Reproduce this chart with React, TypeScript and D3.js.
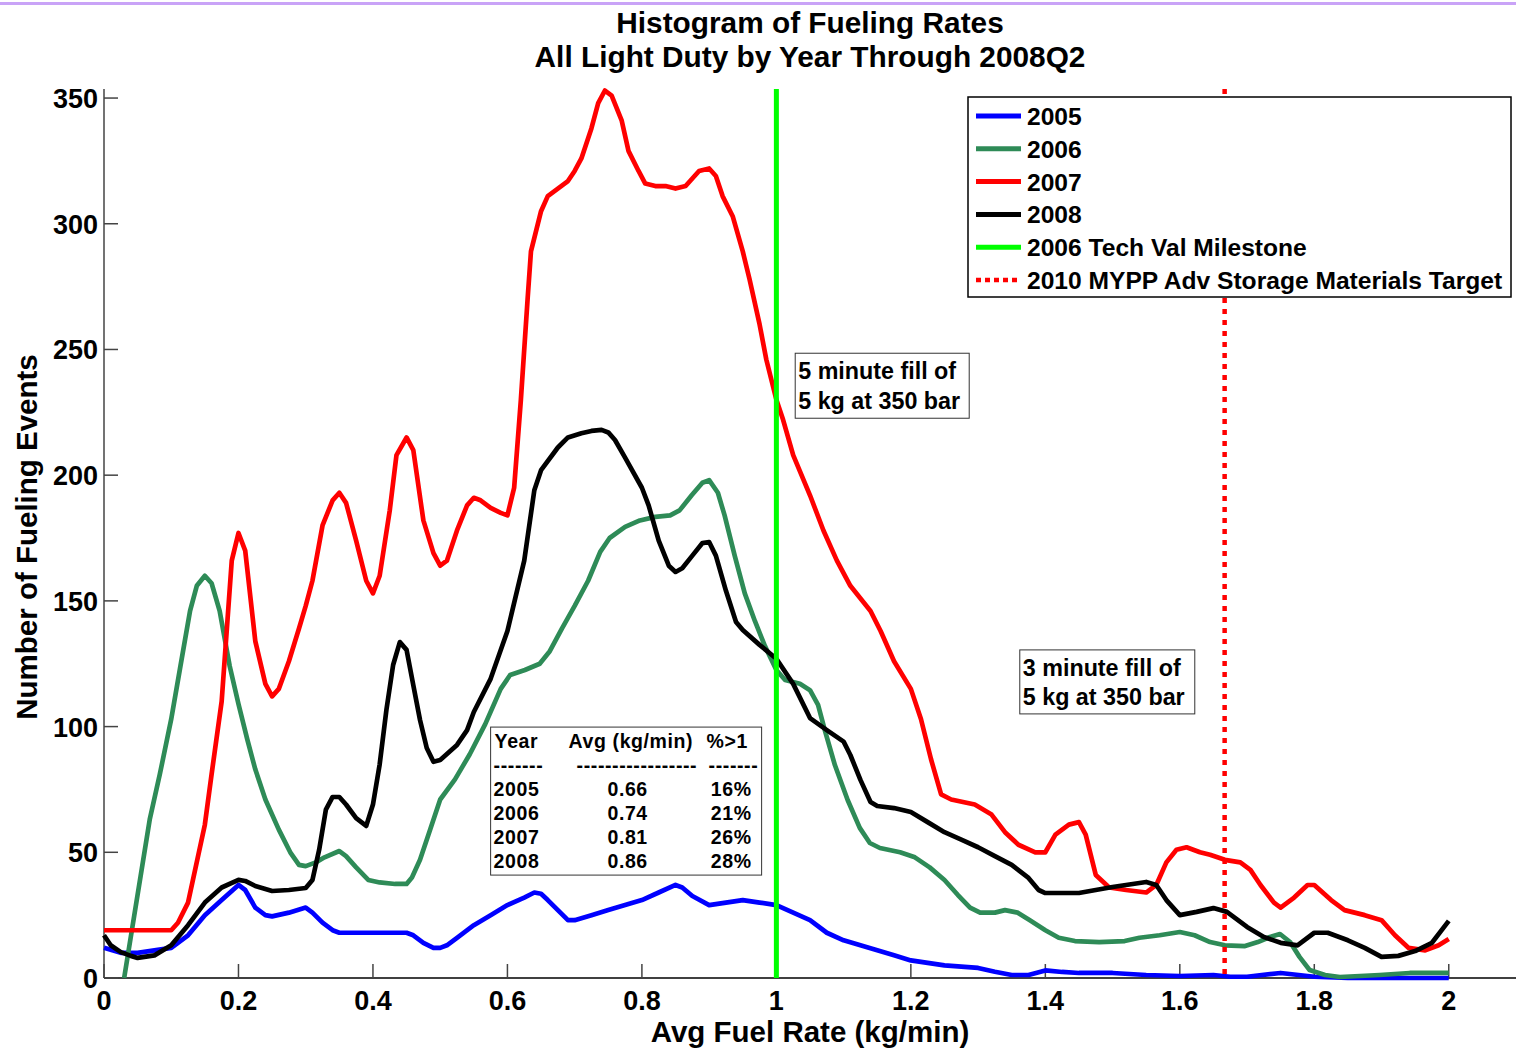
import { scaleLinear, line } from "d3";

const title = ["Histogram of Fueling Rates", "All Light Duty by Year Through 2008Q2"];
const xTicks = [0, 0.2, 0.4, 0.6, 0.8, 1, 1.2, 1.4, 1.6, 1.8, 2];
const yTicks = [0, 50, 100, 150, 200, 250, 300, 350];

// [rate kg/min, count]
const s2005: [number, number][] = [
  [0, 12], [0.025, 10], [0.05, 10], [0.075, 11], [0.1, 12], [0.125, 17], [0.15, 25], [0.175, 31],
  [0.2, 37], [0.21, 35], [0.225, 28], [0.24, 25], [0.25, 24.5], [0.275, 26], [0.3, 28], [0.31, 26],
  [0.325, 22], [0.34, 19], [0.35, 18], [0.4, 18], [0.45, 18], [0.46, 17], [0.475, 14], [0.49, 12],
  [0.5, 12], [0.51, 13], [0.525, 16], [0.55, 21], [0.575, 25], [0.6, 29], [0.625, 32], [0.64, 34],
  [0.65, 33.5], [0.66, 31], [0.675, 27], [0.69, 23], [0.7, 23], [0.725, 25], [0.75, 27], [0.775, 29],
  [0.8, 31], [0.825, 34], [0.85, 37], [0.86, 36], [0.875, 32.6], [0.9, 29], [0.925, 30], [0.95, 31],
  [0.975, 30], [1.0, 29], [1.025, 26], [1.05, 23], [1.075, 18], [1.1, 15], [1.125, 13], [1.15, 11],
  [1.175, 9], [1.2, 7], [1.25, 5], [1.3, 4], [1.325, 2.5], [1.35, 1.2], [1.375, 1.2], [1.4, 3],
  [1.425, 2.4], [1.45, 2], [1.5, 2], [1.55, 1.2], [1.6, 0.8], [1.65, 1.2], [1.675, 0.5], [1.7, 0.5],
  [1.75, 2], [1.8, 0.5], [1.85, 0], [2.0, 0],
];

const s2006: [number, number][] = [
  [0.03, 0], [0.068, 63], [0.083, 81], [0.1, 103], [0.113, 123], [0.128, 146], [0.138, 156], [0.15, 160],
  [0.16, 157], [0.172, 146], [0.187, 124], [0.2, 109], [0.213, 95], [0.225, 83], [0.24, 71], [0.26, 59],
  [0.277, 50], [0.29, 45], [0.3, 44.5], [0.315, 46], [0.328, 48], [0.35, 50.5], [0.36, 48.5], [0.375, 44],
  [0.393, 39], [0.41, 38], [0.433, 37.4], [0.45, 37.4], [0.458, 40], [0.47, 47], [0.485, 59], [0.5, 71],
  [0.522, 79], [0.544, 89], [0.567, 101], [0.59, 115], [0.604, 120.5], [0.626, 122.5], [0.648, 125],
  [0.663, 130], [0.681, 139], [0.7, 148], [0.72, 158], [0.738, 169.5], [0.752, 175], [0.775, 179.4],
  [0.797, 182], [0.82, 183.4], [0.842, 184], [0.856, 186], [0.874, 192], [0.89, 197], [0.9, 198],
  [0.913, 193], [0.923, 184], [0.938, 168], [0.953, 153], [0.968, 142], [0.983, 132], [1.0, 122.5],
  [1.013, 118.5], [1.035, 117], [1.05, 114.5], [1.062, 108.6], [1.072, 98.6], [1.087, 84.7], [1.106, 70.8],
  [1.124, 59.7], [1.139, 53.7], [1.154, 51.7], [1.184, 50], [1.206, 48], [1.228, 44], [1.25, 39],
  [1.27, 33], [1.288, 28], [1.303, 26], [1.325, 26], [1.34, 27], [1.359, 26], [1.377, 23], [1.4, 19],
  [1.42, 16], [1.444, 14.7], [1.48, 14.3], [1.518, 14.7], [1.54, 16], [1.57, 17], [1.6, 18.3],
  [1.622, 17], [1.645, 14.3], [1.667, 13], [1.697, 12.7], [1.716, 14.3], [1.734, 16.3], [1.749, 17.5],
  [1.764, 14.3], [1.778, 8.4], [1.793, 3.2], [1.816, 1.2], [1.838, 0.4], [1.868, 0.8], [1.897, 1.2],
  [1.942, 2], [2.0, 2],
];

const s2007: [number, number][] = [
  [0, 19], [0.05, 19], [0.1, 19], [0.11, 22], [0.125, 30], [0.15, 61], [0.16, 81], [0.175, 110],
  [0.19, 166], [0.2, 177], [0.21, 170], [0.225, 134], [0.24, 117], [0.25, 112], [0.26, 115],
  [0.275, 126], [0.29, 139], [0.3, 148], [0.31, 158], [0.325, 180], [0.34, 190], [0.35, 193],
  [0.36, 189], [0.375, 174], [0.39, 158], [0.4, 153], [0.41, 160], [0.425, 186], [0.435, 208],
  [0.45, 215], [0.46, 210], [0.475, 182], [0.49, 169], [0.5, 164], [0.51, 166], [0.525, 178],
  [0.54, 188], [0.55, 191], [0.56, 190], [0.575, 187], [0.59, 185], [0.6, 184], [0.61, 195],
  [0.62, 230], [0.63, 270], [0.635, 289], [0.65, 305], [0.66, 311], [0.675, 314], [0.69, 317],
  [0.7, 321], [0.71, 326], [0.725, 338], [0.735, 348], [0.745, 353], [0.755, 351], [0.77, 341],
  [0.78, 329], [0.795, 321], [0.805, 316], [0.82, 315], [0.835, 315], [0.85, 314], [0.865, 315],
  [0.875, 318], [0.885, 321], [0.9, 322], [0.91, 319], [0.92, 311], [0.935, 303], [0.95, 289],
  [0.96, 278], [0.975, 260], [0.985, 246], [1.0, 230], [1.01, 222], [1.025, 208], [1.05, 192],
  [1.07, 178], [1.09, 166], [1.11, 156], [1.14, 146], [1.155, 138], [1.175, 126], [1.2, 115],
  [1.215, 103], [1.23, 87], [1.245, 73], [1.26, 71], [1.295, 69], [1.32, 65], [1.34, 58], [1.36, 53],
  [1.385, 50], [1.4, 50], [1.415, 57], [1.435, 61], [1.45, 62], [1.46, 57], [1.475, 41], [1.495, 36],
  [1.52, 35], [1.55, 34], [1.565, 37], [1.58, 46], [1.595, 51], [1.61, 52], [1.63, 50], [1.645, 49],
  [1.667, 47], [1.69, 46], [1.705, 43], [1.72, 37], [1.74, 30], [1.75, 28], [1.77, 32], [1.79, 37],
  [1.8, 37], [1.825, 31], [1.845, 27], [1.875, 25], [1.9, 23], [1.92, 17], [1.94, 12], [1.965, 11],
  [1.985, 13], [2.0, 15.5],
];

const s2008: [number, number][] = [
  [0, 17], [0.01, 13], [0.025, 10.3], [0.04, 8.8], [0.05, 8], [0.075, 9], [0.1, 13], [0.125, 21],
  [0.15, 30], [0.175, 36], [0.2, 39], [0.21, 38.6], [0.225, 36.6], [0.25, 34.6], [0.275, 35],
  [0.3, 35.8], [0.31, 39], [0.32, 51], [0.33, 67], [0.34, 72], [0.35, 72], [0.36, 69], [0.375, 63.6],
  [0.39, 60.5], [0.4, 69], [0.41, 85], [0.42, 106.6], [0.43, 124.5], [0.44, 133.6], [0.45, 130.5],
  [0.46, 116.5], [0.47, 102.6], [0.48, 91.5], [0.49, 86], [0.5, 86.7], [0.525, 92.7], [0.54, 98.6],
  [0.55, 105.8], [0.575, 119], [0.6, 138], [0.625, 166], [0.64, 194], [0.65, 202], [0.675, 211],
  [0.69, 215], [0.71, 216.7], [0.725, 217.6], [0.74, 218], [0.75, 217], [0.76, 214], [0.775, 207],
  [0.8, 195], [0.81, 188], [0.825, 174], [0.84, 164], [0.85, 161.5], [0.86, 163], [0.875, 168],
  [0.89, 173], [0.9, 173.4], [0.91, 168], [0.925, 154], [0.94, 141.6], [0.95, 138.4], [0.975, 132.5],
  [1.0, 127], [1.025, 117], [1.05, 103.4], [1.075, 98.6], [1.1, 94], [1.11, 88.7], [1.125, 78.8],
  [1.14, 70], [1.15, 68.4], [1.175, 67.6], [1.2, 66], [1.225, 62], [1.25, 58], [1.275, 55], [1.3, 52],
  [1.325, 48.5], [1.35, 45], [1.375, 39.8], [1.39, 35], [1.4, 33.8], [1.45, 33.8], [1.5, 36.2],
  [1.55, 38.2], [1.565, 37], [1.58, 31], [1.6, 25], [1.625, 26.3], [1.65, 27.8], [1.67, 26.3],
  [1.7, 20.3], [1.725, 16.3], [1.75, 14], [1.775, 13], [1.8, 18], [1.82, 18], [1.85, 15], [1.875, 12],
  [1.9, 8.4], [1.925, 8.8], [1.95, 10.7], [1.975, 14], [2.0, 22.7],
];

const milestone = 1;
const target = 5 / 3;

const legendLabels = [
  "2005",
  "2006",
  "2007",
  "2008",
  "2006 Tech Val Milestone",
  "2010 MYPP Adv Storage Materials Target",
];
const legendColors = ["#0000ff", "#2e8b57", "#ff0000", "#000000", "#00ff00", "#ff0000"];

const tableHead = ["Year", "Avg (kg/min)", "%>1"];
const tableDash = ["-------", "-----------------", "-------"];
const tableYears = ["2005", "2006", "2007", "2008"];
const tableAvg = ["0.66", "0.74", "0.81", "0.86"];
const tablePct = ["16%", "21%", "26%", "28%"];

const W = 1516;
const H = 1048;
const FONT = "'Liberation Sans', Arial, Helvetica, sans-serif";

export default function App() {
  const x = scaleLinear().domain([0, 2.1]).range([104, 1516]);
  const y = scaleLinear().domain([0, 353.6]).range([978, 89]);
  const path = line<[number, number]>()
    .x((d) => x(d[0]))
    .y((d) => y(d[1]));

  const series = [s2005, s2006, s2007, s2008];
  const top = y(353.6);
  const bottom = y(0);

  return (
    <svg
      width={W}
      height={H}
      style={{ position: "absolute", left: 0, top: 0, background: "#fff" }}
      fontFamily={FONT}
      fontWeight="bold"
    >
      <rect x={0} y={0} width={W} height={H} fill="#fff" />
      <rect x={0} y={2} width={W} height={3} fill="#c9a3f7" />

      {/* title */}
      {title.map((t, i) => (
        <text key={t} x={810} y={33 + i * 34} textAnchor="middle" fontSize={29.8}>
          {t}
        </text>
      ))}

      {/* axes */}
      <line x1={x(0)} x2={x(0)} y1={top} y2={bottom} stroke="#444" strokeWidth={1.5} />
      <line x1={x(0)} x2={W} y1={bottom} y2={bottom} stroke="#000" strokeWidth={1.5} />
      {yTicks.map((t) => (
        <g key={t}>
          <line x1={x(0)} x2={x(0) + 14} y1={y(t)} y2={y(t)} stroke="#444" strokeWidth={1.5} />
          <text x={98} y={y(t) + 10} textAnchor="end" fontSize={27}>
            {t}
          </text>
        </g>
      ))}
      {xTicks.map((t) => (
        <g key={t}>
          <line x1={x(t)} x2={x(t)} y1={bottom} y2={bottom - 14} stroke="#444" strokeWidth={1.5} />
          <text x={x(t)} y={1010} textAnchor="middle" fontSize={27}>
            {String(t)}
          </text>
        </g>
      ))}
      <text x={810} y={1042} textAnchor="middle" fontSize={29.5}>
        Avg Fuel Rate (kg/min)
      </text>
      <text
        transform={`translate(37,537) rotate(-90)`}
        textAnchor="middle"
        fontSize={29.5}
      >
        Number of Fueling Events
      </text>

      {/* curves */}
      {series.map((s, i) => (
        <path
          key={i}
          d={path(s) ?? ""}
          fill="none"
          stroke={legendColors[i]}
          strokeWidth={4.7}
          strokeLinejoin="round"
        />
      ))}

      {/* reference lines */}
      <line
        x1={x(milestone)}
        x2={x(milestone)}
        y1={top}
        y2={bottom}
        stroke="#00ff00"
        strokeWidth={5}
      />
      <line
        x1={x(target)}
        x2={x(target)}
        y1={top}
        y2={bottom}
        stroke="#ff0000"
        strokeWidth={4.5}
        strokeDasharray="5,6"
      />

      {/* annotations */}
      <g transform={`translate(${x(1.028)},${y(248.5)})`}>
        <rect x={0} y={0} width={174} height={65} fill="#fff" stroke="#333" strokeWidth={1} />
        <text x={3} y={26} fontSize={23.3}>5 minute fill of</text>
        <text x={3} y={56} fontSize={23.3}>5 kg at 350 bar</text>
      </g>
      <g transform={`translate(${x(1.362)},${y(130.5)})`}>
        <rect x={0} y={0} width={175} height={64} fill="#fff" stroke="#333" strokeWidth={1} />
        <text x={3} y={26} fontSize={23.3}>3 minute fill of</text>
        <text x={3} y={55} fontSize={23.3}>5 kg at 350 bar</text>
      </g>

      {/* summary table */}
      <g transform={`translate(${x(0.575)},${y(99.8)})`} fontSize={19.5} letterSpacing={0.6}>
        <rect x={0} y={0} width={271} height={148} fill="#fff" stroke="#333" strokeWidth={1} />
        <text x={4} y={21}>{tableHead[0]}</text>
        <text x={78} y={21}>{tableHead[1]}</text>
        <text x={216} y={21}>{tableHead[2]}</text>
        <text x={3} y={45}>{tableDash[0]}</text>
        <text x={86} y={45}>{tableDash[1]}</text>
        <text x={218} y={45}>{tableDash[2]}</text>
        {tableYears.map((yr, i) => (
          <g key={yr}>
            <text x={3} y={69 + i * 24}>{yr}</text>
            <text x={137} y={69 + i * 24} textAnchor="middle">{tableAvg[i]}</text>
            <text x={261} y={69 + i * 24} textAnchor="end">{tablePct[i]}</text>
          </g>
        ))}
      </g>

      {/* legend */}
      <g transform="translate(968,97)">
        <rect x={0} y={0} width={543} height={200} fill="#fff" stroke="#000" strokeWidth={1.5} />
        {legendLabels.map((lab, i) => (
          <g key={lab} transform={`translate(0,${19 + i * 32.8})`}>
            <line
              x1={8}
              x2={53}
              y1={0}
              y2={0}
              stroke={legendColors[i]}
              strokeWidth={i === 5 ? 4.5 : 5}
              strokeDasharray={i === 5 ? "5,4" : undefined}
            />
            <text x={59} y={9} fontSize={24.6}>
              {lab}
            </text>
          </g>
        ))}
      </g>
    </svg>
  );
}
